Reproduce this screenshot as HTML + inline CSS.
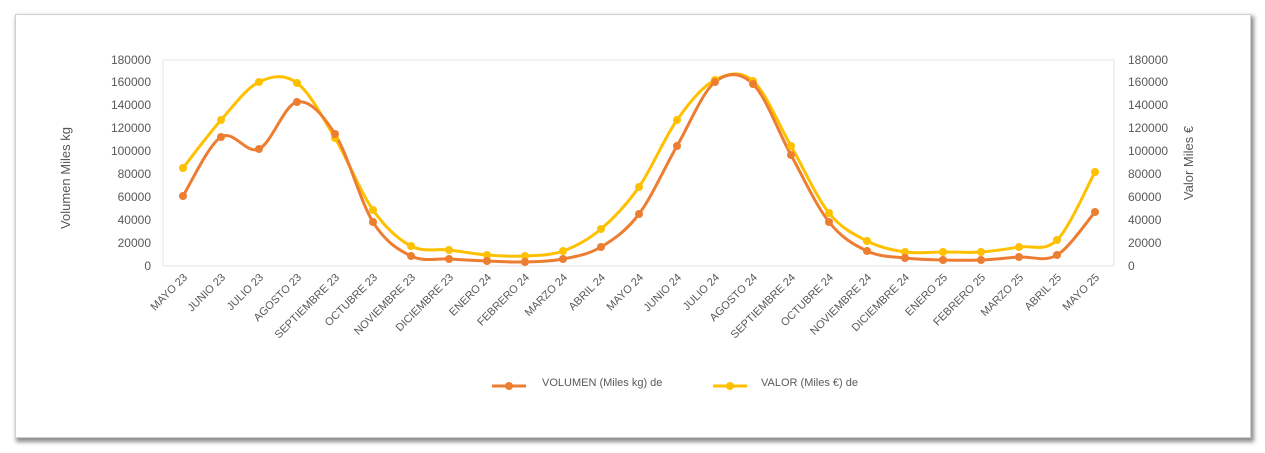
<!DOCTYPE html>
<html><head><meta charset="utf-8"><style>
html,body{margin:0;padding:0;background:#fff;}
body{width:1265px;height:453px;overflow:hidden;position:relative;font-family:"Liberation Sans",sans-serif;}
.frame{position:absolute;left:15px;top:14px;width:1234px;height:422px;border:1px solid #cfcfcf;box-shadow:2px 3px 4px 1px rgba(0,0,0,0.45);background:#fff;}
</style></head><body>
<div class="frame"></div>
<svg id="s" width="1265" height="453" style="position:absolute;left:0;top:0" font-family="Liberation Sans, sans-serif">
<rect x="163" y="60" width="951" height="206" fill="none" stroke="#e6e6e6"/>
<g id="ticks" font-size="12" fill="#595959"></g>
<text transform="translate(70,178) rotate(-90)" text-anchor="middle" font-size="13" fill="#595959">Volumen Miles kg</text>
<text transform="translate(1193,163) rotate(-90)" text-anchor="middle" font-size="13" fill="#595959">Valor Miles €</text>
<g id="cats" font-size="11" fill="#595959"></g>
<path id="pv" fill="none" stroke="#ffc000" stroke-width="3"/>
<path id="po" fill="none" stroke="#ed7d31" stroke-width="3"/>
<g id="mk"></g>
<line x1="492" y1="386" x2="526" y2="386" stroke="#ed7d31" stroke-width="3"/><circle cx="509" cy="386" r="4" fill="#ed7d31"/>
<text x="542" y="386" font-size="11" fill="#595959">VOLUMEN (Miles kg) de</text>
<line x1="713" y1="386" x2="747" y2="386" stroke="#ffc000" stroke-width="3"/><circle cx="730" cy="386" r="4" fill="#ffc000"/>
<text x="761" y="386" font-size="11" fill="#595959">VALOR (Miles €) de</text>
</svg>
<script>
var ns="http://www.w3.org/2000/svg";
function el(t,a,txt){var e=document.createElementNS(ns,t);for(var k in a)e.setAttribute(k,a[k]);if(txt)e.textContent=txt;return e;}
var T=document.getElementById('ticks');
for(var i=0;i<=8;i++){var y=266-i*23;var v=String(i*20000);
T.appendChild(el('text',{x:151,y:y+4,'text-anchor':'end'},v));
T.appendChild(el('text',{x:1128,y:y+4},v));}
T.appendChild(el('text',{x:151,y:64,'text-anchor':'end'},'180000'));
T.appendChild(el('text',{x:1128,y:64},'180000'));
var cats=["MAYO 23","JUNIO 23","JULIO 23","AGOSTO 23","SEPTIEMBRE 23","OCTUBRE 23","NOVIEMBRE 23","DICIEMBRE 23","ENERO 24","FEBRERO 24","MARZO 24","ABRIL 24","MAYO 24","JUNIO 24","JULIO 24","AGOSTO 24","SEPTIEMBRE 24","OCTUBRE 24","NOVIEMBRE 24","DICIEMBRE 24","ENERO 25","FEBRERO 25","MARZO 25","ABRIL 25","MAYO 25"];
var C=document.getElementById('cats');
var X=[];for(var i=0;i<25;i++)X.push(183+i*38);
cats.forEach(function(c,i){C.appendChild(el('text',{transform:'translate('+(X[i]+5)+',278) rotate(-45)','text-anchor':'end'},c));});
var vo=[196,137,149,102,134,222,256,259,261,262,259,247,214,146,82,84,155,222,251,258,260,260,257,255,212];
var va=[168,120,82,83,138,210,246,250,255,256,251,229,187,120,80,81,146,213,241,252,252,252,247,240,172];
function path(Y){var d='M'+X[0]+','+Y[0];for(var i=0;i<24;i++){var x0=X[Math.max(i-1,0)],y0=Y[Math.max(i-1,0)],x1=X[i],y1=Y[i],x2=X[i+1],y2=Y[i+1],x3=X[Math.min(i+2,24)],y3=Y[Math.min(i+2,24)];
d+=' C'+(x1+(x2-x0)/6)+','+(y1+(y2-y0)/6)+' '+(x2-(x3-x1)/6)+','+(y2-(y3-y1)/6)+' '+x2+','+y2;}return d;}
document.getElementById('po').setAttribute('d',path(vo));
document.getElementById('pv').setAttribute('d',path(va));
var M=document.getElementById('mk');
for(var i=0;i<25;i++){M.appendChild(el('circle',{cx:X[i],cy:va[i],r:4,fill:'#ffc000'}));M.appendChild(el('circle',{cx:X[i],cy:vo[i],r:4,fill:'#ed7d31'}));}
</script>
</body></html>
